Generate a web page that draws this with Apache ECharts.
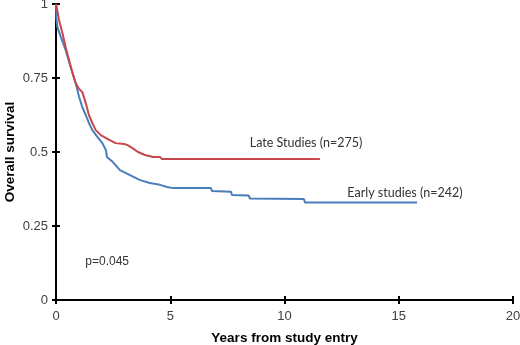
<!DOCTYPE html>
<html>
<head>
<meta charset="utf-8">
<script src="https://cdn.jsdelivr.net/npm/echarts@6/dist/echarts.min.js"></script>
<style>
  html, body { margin: 0; padding: 0; background: #fff; }
  #chart { width: 520px; height: 345px; }
</style>
</head>
<body>
<div id="chart"></div>
<script>
// years from study entry / survival
// (a repeated time means a vertical drop of the curve)
var lateTimes = [0, 0.03, 0.13, 0.28, 0.42, 0.57, 0.71, 0.86, 1.01, 1.15, 1.30, 1.44, 1.59, 1.74, 1.96, 2.25, 2.61, 2.98, 3.11, 3.33, 3.59, 3.89, 4.25, 4.55, 4.64, 11.55];
var lateSurv  = [1.0, 0.991, 0.946, 0.902, 0.855, 0.811, 0.770, 0.733, 0.713, 0.703, 0.666, 0.625, 0.598, 0.574, 0.557, 0.544, 0.530, 0.527, 0.524, 0.514, 0.50, 0.49, 0.483, 0.483, 0.476, 0.476];

var earlyTimes = [0, 0.02, 0.06, 0.21, 0.42, 0.64, 0.86, 1.01, 1.15, 1.30, 1.44, 1.59, 1.81, 2.03, 2.18, 2.23, 2.49, 2.80, 3.24, 3.68, 4.11, 4.55, 4.86, 5.12, 6.78, 6.83, 7.66, 7.70, 8.43, 8.49, 10.85, 10.90, 15.8];
var earlySurv  = [1.0, 0.95, 0.922, 0.889, 0.845, 0.787, 0.733, 0.686, 0.652, 0.625, 0.598, 0.574, 0.551, 0.530, 0.507, 0.483, 0.466, 0.439, 0.422, 0.405, 0.395, 0.389, 0.382, 0.378, 0.378, 0.368, 0.366, 0.355, 0.353, 0.343, 0.341, 0.329, 0.329];

var xTicks = [0, 5, 10, 15, 20];
var yTicks = [0, 0.25, 0.5, 0.75, 1];

function pairs(t, s) {
    var out = [];
    for (var i = 0; i < t.length; i++) out.push([t[i], s[i]]);
    return out;
}

var tickFont = { fontFamily: 'Liberation Sans, Arial', fontSize: 13, color: '#404040' };
var nameFont = { fontFamily: 'Liberation Sans, Arial', fontSize: 13.5, fontWeight: 'bold', color: '#000' };
var noteFont = { fontFamily: 'Lato', fontSize: 12.5, color: '#333' };

function note(text, coord, font) {
    return {
        coord: coord,
        symbol: 'circle',
        symbolSize: 1,
        itemStyle: { color: 'rgba(0,0,0,0)' },
        label: Object.assign({ show: true, formatter: text, position: 'inside' }, font)
    };
}

var option = {
    animation: false,
    grid: { left: 56, right: 7, top: 4, bottom: 45, outerBoundsMode: 'none', containLabel: false },
    xAxis: [{
        type: 'value', min: xTicks[0], max: xTicks[xTicks.length - 1], interval: 5,
        axisLine: { onZero: false, lineStyle: { color: '#000', width: 2 } },
        axisTick: { show: true, length: 4, lineStyle: { color: '#000', width: 2 } },
        axisLabel: Object.assign({ margin: 10 }, tickFont),
        splitLine: { show: false },
        name: 'Years from study entry', nameLocation: 'middle', nameGap: 31,
        nameMoveOverlap: false,
        nameTextStyle: nameFont
    }, {
        type: 'value', min: xTicks[0], max: xTicks[xTicks.length - 1], interval: 5,
        position: 'bottom',
        axisLine: { show: false },
        axisTick: { show: true, inside: true, length: 4, lineStyle: { color: '#000', width: 2 } },
        axisLabel: { show: false },
        splitLine: { show: false }
    }],
    yAxis: [{
        type: 'value', min: yTicks[0], max: yTicks[yTicks.length - 1], interval: 0.25,
        axisLine: { onZero: false, lineStyle: { color: '#000', width: 2 } },
        axisTick: { show: true, length: 4, lineStyle: { color: '#000', width: 2 } },
        axisLabel: Object.assign({ margin: 8 }, tickFont),
        splitLine: { show: false },
        name: 'Overall survival', nameLocation: 'middle', nameGap: 39,
        nameMoveOverlap: false,
        nameTextStyle: nameFont
    }, {
        type: 'value', min: yTicks[0], max: yTicks[yTicks.length - 1], interval: 0.25,
        position: 'left',
        axisLine: { show: false },
        axisTick: { show: true, inside: true, length: 4, lineStyle: { color: '#000', width: 2 } },
        axisLabel: { show: false },
        splitLine: { show: false }
    }],
    series: [{
        name: 'Early studies (n=242)',
        type: 'line',
        showSymbol: false,
        data: pairs(earlyTimes, earlySurv),
        lineStyle: { color: '#4a7ebb', width: 2 },
        z: 3,
        markPoint: {
            silent: true,
            data: [
                note('Early studies (n=242)', [15.27, 0.361], noteFont),
                note('p=0.045', [2.24, 0.128], { fontFamily: 'Liberation Sans, Arial', fontSize: 12, color: '#333' })
            ]
        }
    }, {
        name: 'Late Studies (n=275)',
        type: 'line',
        showSymbol: false,
        data: pairs(lateTimes, lateSurv),
        lineStyle: { color: '#c8474d', width: 2 },
        z: 4,
        markPoint: {
            silent: true,
            data: [note('Late Studies (n=275)', [10.94, 0.53], noteFont)]
        }
    }]
};

var chart = echarts.init(document.getElementById('chart'));
chart.setOption(option);
</script>
</body>
</html>
